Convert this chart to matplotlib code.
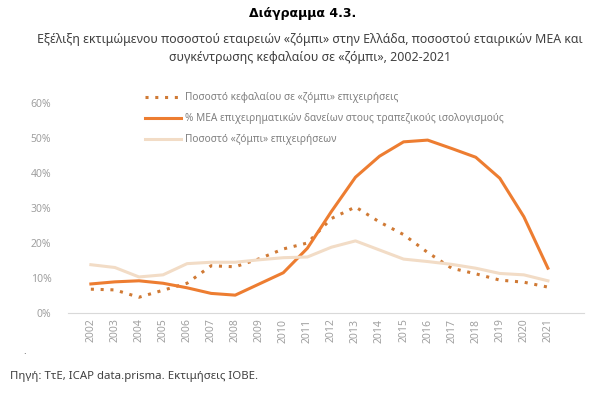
import numpy as np
import matplotlib
matplotlib.use('Agg')
import matplotlib.pyplot as plt
from matplotlib.ticker import PercentFormatter

plt.rcParams['font.family'] = ['Noto Sans', 'DejaVu Sans']

# Δεδομένα (εκτίμηση από το διάγραμμα)
years = list(range(2002, 2022))
kefalaio_zombi = [6.8, 6.6, 4.5, 6.5, 8.5, 13.5, 13.2, 15.5, 18.3, 20.0,
                  27.0, 30.3, 26.0, 22.4, 17.3, 12.8, 11.2, 9.4, 8.8, 7.4]
mea_daneia = [8.3, 8.9, 9.2, 8.5, 7.2, 5.6, 5.1, 8.3, 11.5, 18.5,
              29.0, 38.8, 44.8, 48.9, 49.4, 47.0, 44.5, 38.5, 27.5, 12.8]
zombi_epixeiriseis = [13.8, 13.0, 10.3, 10.9, 14.1, 14.5, 14.5, 15.2, 15.8, 16.0,
                      18.8, 20.6, 18.0, 15.4, 14.7, 13.9, 12.8, 11.3, 10.9, 9.2]

labels = ['Ποσοστό κεφαλαίου σε «ζόμπι» επιχειρήσεις',
          '% ΜΕΑ επιχειρηματικών δανείων στους τραπεζικούς ισολογισμούς',
          'Ποσοστό «ζόμπι» επιχειρήσεων']

fig = plt.figure(figsize=(6.06, 3.93), dpi=100)
ax = fig.add_axes([68/606, 80/393, 516/606, 210/393])

ax.plot(years, kefalaio_zombi, color='#d07a35', linestyle=(0, (1, 2.2)), linewidth=2.2, label=labels[0])
ax.plot(years, mea_daneia, color='#ed7d31', linewidth=2.2, label=labels[1])
ax.plot(years, zombi_epixeiriseis, color='#f2dcc6', linewidth=2.2, label=labels[2])

ax.set_xlim(2001.05, 2022.5)
ax.set_ylim(0, 60)
ax.set_yticks(np.arange(0, 61, 10))
ax.yaxis.set_major_formatter(PercentFormatter(decimals=0))
ax.set_xticks(years)
ax.set_xticklabels([str(y) for y in years], rotation=90)
ax.tick_params(axis='both', length=0, labelsize=7.5, colors='#a0a0a0', pad=4)
ax.tick_params(axis='y', pad=12)
for s in ['top', 'right', 'left']:
    ax.spines[s].set_visible(False)
ax.spines['bottom'].set_color('#d9d9d9')
for l in ax.lines:
    l.set_clip_on(False)

fig.legend(loc='upper left', bbox_to_anchor=(136/606, 1 - 83/393), frameon=False,
           fontsize=7.3, handlelength=3.5, labelspacing=1.0, handletextpad=0.4,
           labelcolor='#808080')

fig.text(303/606, 1 - 14/393, 'Διάγραμμα 4.3.', ha='center', va='center',
         fontsize=9, fontweight='bold', family=['DejaVu Sans'], color='#000000')
fig.text(0.512, 1 - 40/393, 'Εξέλιξη εκτιμώμενου ποσοστού εταιρειών «ζόμπι» στην Ελλάδα, ποσοστού εταιρικών ΜΕΑ και',
         ha='center', va='center', fontsize=8.9, color='#404040')
fig.text(0.512, 1 - 58/393, 'συγκέντρωσης κεφαλαίου σε «ζόμπι», 2002-2021',
         ha='center', va='center', fontsize=8.9, color='#404040')
fig.text(25/606, 1 - 352/393, '.', ha='center', va='center', fontsize=7, color='#404040')
fig.text(10/606, 1 - 376/393, 'Πηγή: ΤτΕ, ICAP data.prisma. Εκτιμήσεις ΙΟΒΕ.',
         ha='left', va='center', fontsize=8.2, color='#404040')

fig.savefig('out.png', dpi=100)
